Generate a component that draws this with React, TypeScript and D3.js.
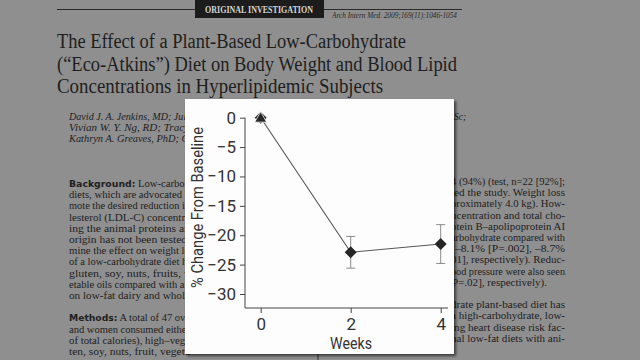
import React, { useEffect, useRef } from "react";
import * as d3 from "d3";

// values (% change from baseline, mean ± SE)
const weeks = [0, 2, 4];
const pctChange = [0, -22.9, -21.5];
const pctErr = [0, 2.7, 3.3];
const yTicks = [0, -5, -10, -15, -20, -25, -30];
const xTicks = [0, 2, 4];

// page behind the figure
const titleLines = [
  "The Effect of a Plant-Based Low-Carbohydrate",
  "(\u201cEco-Atkins\u201d) Diet on Body Weight and Blood Lipid",
  "Concentrations in Hyperlipidemic Subjects",
];
const titleWidths = [349, 400, 326];
const authorLines = [
  "David J. A. Jenkins, MD; Juli",
  "Vivian W. Y. Ng, RD; Tracy",
  "Kathryn A. Greaves, PhD; G",
];
const leftLines = [
  "Background: Low-carboh",
  "diets, which are advocated b",
  "mote the desired reduction in",
  "lesterol (LDL-C) concentra",
  "ing the animal proteins an",
  "origin has not been tested.",
  "mine the effect on weight lo",
  "of a low-carbohydrate diet hi",
  "gluten, soy, nuts, fruits, v",
  "etable oils compared with a l",
  "on low-fat dairy and whole",
  "",
  "Methods: A total of 47 ove",
  "and women consumed either",
  "of total calories), high\u2013vege",
  "ten, soy, nuts, fruit, vegeta",
];
const rightLines = [
  "4 (94%) (test, n=22 [92%];",
  "ted the study. Weight loss",
  "proximately 4.0 kg). How-",
  "ncentration and total cho-",
  "otein B\u2013apolipoprotein AI",
  "arbohydrate compared with",
  "(\u20138.1% [P=.002], \u20138.7%",
  "01], respectively). Reduc-",
  "ood pressure were also seen",
  "P=.02], respectively).",
  "",
  "drate plant-based diet has",
  "a high-carbohydrate, low-",
  "ing heart disease risk fac-",
  "nal low-fat diets with ani-",
];

const W = 640;
const H = 360;
const serif = "'Liberation Serif', 'DejaVu Serif', serif";
const narrow = "'Liberation Sans Narrow', 'Arial Narrow', Roboto, sans-serif";
const pageBg = "#8f8f8f";
const ink = "#1e1e1e";

export default function App() {
  const xAxisRef = useRef<SVGGElement>(null);
  const yAxisRef = useRef<SVGGElement>(null);

  const panel = { x: 185, y: 99, w: 269, h: 255 };
  const axisX = 245;
  const axisY = 308;

  const x = d3.scaleLinear().domain([0, 4]).range([260.7, 440.7]);
  const y = d3.scaleLinear().domain([0, -30]).range([117.7, 294]);

  useEffect(() => {
    const ya = d3.select(yAxisRef.current);
    ya.selectAll("*").remove();
    ya.call(d3.axisLeft(y).tickValues(yTicks).tickSize(5).tickPadding(4) as any);
    ya.select(".domain").remove();
    ya.selectAll("line").attr("stroke", "#444");
    ya.selectAll("text")
      .attr("font-family", narrow)
      .attr("font-size", 17)
      .attr("fill", "#333");

    const xa = d3.select(xAxisRef.current);
    xa.selectAll("*").remove();
    xa.call(
      d3.axisBottom(x).tickValues(xTicks).tickFormat(d3.format("d")).tickSize(5).tickPadding(5) as any
    );
    xa.select(".domain").remove();
    xa.selectAll("line").attr("stroke", "#444");
    xa.selectAll("text")
      .attr("font-family", narrow)
      .attr("font-size", 17)
      .attr("fill", "#333");
  }, []);

  const pts = weeks.map((w, i) => ({ w, v: pctChange[i], e: pctErr[i] }));
  const line = d3
    .line<{ w: number; v: number }>()
    .x((d) => x(d.w))
    .y((d) => y(d.v));
  const diamond = d3.symbol().type(d3.symbolSquare).size(72)();
  const triangle = d3.symbol().type(d3.symbolTriangle).size(62)();

  const bodyTop = 187;
  const lh = 11.2;

  return (
    <div style={{ position: "fixed", left: 0, top: 0 }}>
      <svg width={W} height={H} style={{ display: "block" }}>
        <defs>
          <filter id="shadow" x="-10%" y="-10%" width="130%" height="130%">
            <feDropShadow dx="2" dy="2" stdDeviation="1.5" floodColor="#000" floodOpacity="0.6" />
          </filter>
        </defs>
        <rect width={W} height={H} fill={pageBg} />

        {/* journal header */}
        <line x1={57} x2={462} y1={9.5} y2={9.5} stroke="#2a2a2a" strokeWidth={1} />
        <rect x={195} y={0} width={129} height={18} fill="#1c1c1c" />
        <text x={205} y={12.5} fontFamily={serif} fontWeight="bold" fontSize={9.5}
          fill="#d6d6d6" textLength={108} lengthAdjust="spacingAndGlyphs">
          ORIGINAL INVESTIGATION
        </text>
        <text x={332} y={18} fontFamily={serif} fontStyle="italic" fontSize={7.5}
          fill="#2a2a2a" textLength={125} lengthAdjust="spacingAndGlyphs">
          Arch Intern Med. 2009;169(11):1046-1054
        </text>

        {titleLines.map((t, i) => (
          <text key={i} x={57} y={48 + i * 22.5} fontFamily={serif} fontSize={20.5}
            fill={ink} textLength={titleWidths[i]} lengthAdjust="spacingAndGlyphs">
            {t}
          </text>
        ))}

        {authorLines.map((t, i) => (
          <text key={i} x={69} y={120 + i * 11.2} fontFamily={serif} fontStyle="italic"
            fontSize={9.5} fill={ink} textLength={120} lengthAdjust="spacingAndGlyphs">
            {t}
          </text>
        ))}
        <text x={454} y={120} fontFamily={serif} fontStyle="italic" fontSize={9.5} fill={ink}>
          Sc;
        </text>

        {leftLines.map((t, i) => {
          if (!t) return null;
          const m = t.match(/^(Background:|Methods:)(.*)$/);
          return (
            <text key={i} x={69} y={bodyTop + i * lh} fontFamily={serif} fontSize={9.8}
              fill={ink} textLength={121} lengthAdjust="spacingAndGlyphs">
              {m ? (
                <>
                  <tspan fontFamily="'DejaVu Sans', sans-serif" fontWeight="bold" fontSize={8.6}>
                    {m[1]}
                  </tspan>
                  {m[2]}
                </>
              ) : (
                t
              )}
            </text>
          );
        })}

        {rightLines.map((t, i) => {
          if (!t) return null;
          const short = i === 9;
          return (
            <text key={i} x={short ? 452 : 565} y={bodyTop - 2 + i * lh}
              textAnchor={short ? "start" : "end"} fontFamily={serif} fontSize={9.8}
              fill={ink} textLength={short ? 95 : 114} lengthAdjust="spacingAndGlyphs">
              {t}
            </text>
          );
        })}
        <line x1={318} x2={318} y1={350} y2={360} stroke="#333" />

        {/* figure panel */}
        <rect x={panel.x} y={panel.y} width={panel.w} height={panel.h} fill="#fdfdfd"
          filter="url(#shadow)" />

        <g ref={yAxisRef} transform={`translate(${axisX},0)`} />
        <g ref={xAxisRef} transform={`translate(0,${axisY})`} />
        <line x1={axisX} x2={axisX} y1={y(0)} y2={axisY} stroke="#444" />
        <line x1={axisX} x2={448} y1={axisY} y2={axisY} stroke="#444" />

        <text transform={`translate(203,${207.5}) rotate(-90)`} textAnchor="middle"
          fontFamily={narrow} fontSize={17} fill="#333" textLength={161}
          lengthAdjust="spacingAndGlyphs">
          % Change From Baseline
        </text>
        <text x={351} y={349} textAnchor="middle" fontFamily={narrow} fontSize={17}
          fill="#333" textLength={42} lengthAdjust="spacingAndGlyphs">
          Weeks
        </text>

        {pts
          .filter((d) => d.e > 0)
          .map((d, i) => (
            <g key={i} stroke="#8a8a8a" strokeWidth={1}>
              <line x1={x(d.w)} x2={x(d.w)} y1={y(d.v - d.e)} y2={y(d.v + d.e)} />
              <line x1={x(d.w) - 4.5} x2={x(d.w) + 4.5} y1={y(d.v - d.e)} y2={y(d.v - d.e)} />
              <line x1={x(d.w) - 4.5} x2={x(d.w) + 4.5} y1={y(d.v + d.e)} y2={y(d.v + d.e)} />
            </g>
          ))}
        <path d={line(pts) || ""} fill="none" stroke="#555" strokeWidth={1.1} />
        {pts.map((d, i) => (
          <path key={i} d={diamond || ""} fill="#262626"
            transform={`translate(${x(d.w)},${y(d.v)}) rotate(45)`} />
        ))}
        <path d={triangle || ""} fill="#262626" stroke="#fdfdfd" strokeWidth={0.8}
          transform={`translate(${x(weeks[0])},${y(pctChange[0]) + 1})`} />
      </svg>
    </div>
  );
}
